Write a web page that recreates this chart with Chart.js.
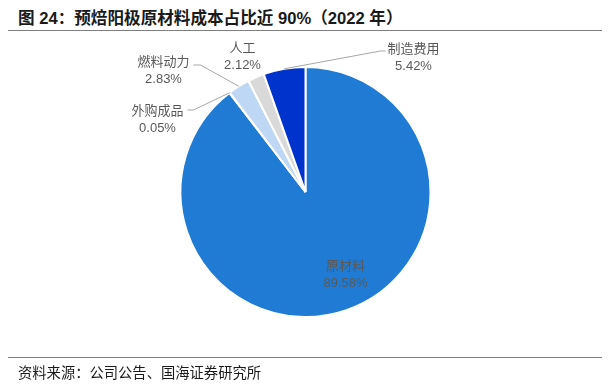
<!DOCTYPE html>
<html>
<head>
<meta charset="utf-8">
<script src="https://cdn.jsdelivr.net/npm/chart.js@4.4.0/dist/chart.umd.min.js"></script>
<style>
  html, body { margin: 0; padding: 0; background: #fff; }
  #wrap { position: relative; width: 610px; height: 390px; overflow: hidden; }
  #title { position: absolute; left: 18px; top: 5px; font: bold 16.6px "Liberation Sans", "Noto Sans CJK SC", sans-serif; color: #1a1a1a; white-space: nowrap; }
  #topline { position: absolute; left: 8px; right: 8px; top: 30px; border-top: 1.5px solid #7f7f7f; }
  #botline { position: absolute; left: 8px; right: 8px; top: 357px; border-top: 1.5px solid #7f7f7f; }
  #source { position: absolute; left: 18px; top: 361px; font: 14.3px "Noto Sans CJK SC", sans-serif; color: #1a1a1a; white-space: nowrap; }
  #box { position: absolute; left: 0; top: 0; width: 610px; height: 390px; }
</style>
</head>
<body>
<div id="wrap">
  <div id="title">图 24：预焙阳极原材料成本占比近 90%（2022 年）</div>
  <div id="topline"></div>
  <div id="box"><canvas id="costChart"></canvas></div>
  <div id="botline"></div>
  <div id="source">资料来源：公司公告、国海证券研究所</div>
</div>
<script>
const categories = ['原材料', '外购成品', '燃料动力', '人工', '制造费用'];
const shares = [89.58, 0.05, 2.83, 2.12, 5.42];
const sliceColors = ['#1f7bd3', '#1f7bd3', '#bdd7f5', '#d9d9d9', '#0033cc'];

// label block centre relative to pie centre, and where the leader line bends (null = no line)
const labelSpots = [
    { dx: 40, dy: 82, elbow: null },
    { dx: -148, dy: -73, elbow: { dx: -112, dy: -82, end: -118 } },
    { dx: -142, dy: -122, elbow: { dx: -105, dy: -127, end: -112 } },
    { dx: -63, dy: -136, elbow: null },
    { dx: 108, dy: -135, elbow: { dx: 75, dy: -141, end: 80 } }
];

const pieLabels = {
    id: 'pieLabels',
    afterDatasetsDraw(chart) {
        const c = chart.ctx;
        const arcs = chart.getDatasetMeta(0).data;
        c.save();
        arcs.forEach((arc, i) => {
            const cx = arc.x, cy = arc.y;
            const spot = labelSpots[i];
            const mid = (arc.startAngle + arc.endAngle) / 2;
            if (spot.elbow) {
                const px = cx + Math.cos(mid) * arc.outerRadius;
                const py = cy + Math.sin(mid) * arc.outerRadius;
                c.strokeStyle = '#a6a6a6';
                c.lineWidth = 1;
                c.beginPath();
                c.moveTo(px, py);
                c.lineTo(cx + spot.elbow.dx, cy + spot.elbow.dy);
                c.lineTo(cx + spot.elbow.end, cy + spot.elbow.dy);
                c.stroke();
            }
            const lx = cx + spot.dx, ly = cy + spot.dy;
            c.fillStyle = '#595959';
            c.textAlign = 'center';
            c.textBaseline = 'middle';
            c.font = '13px "Noto Sans CJK SC", sans-serif';
            c.fillText(categories[i], lx, ly - 9);
            c.font = '13px "Liberation Sans", Arial, sans-serif';
            c.fillText(shares[i].toFixed(2) + '%', lx, ly + 9);
        });
        c.restore();
    }
};

const ctx = document.getElementById('costChart').getContext('2d');

new Chart(ctx, {
    type: 'pie',
    data: {
        labels: categories,
        datasets: [{
            data: shares,
            backgroundColor: sliceColors,
            borderColor: '#ffffff',
            borderWidth: 2
        }]
    },
    options: {
        responsive: true,
        maintainAspectRatio: false,
        animation: false,
        layout: {
            padding: { left: 179.5, right: 178.5, top: 66, bottom: 72 }
        },
        plugins: {
            legend: { display: false },
            tooltip: { enabled: false }
        }
    },
    plugins: [pieLabels]
});
</script>
</body>
</html>
